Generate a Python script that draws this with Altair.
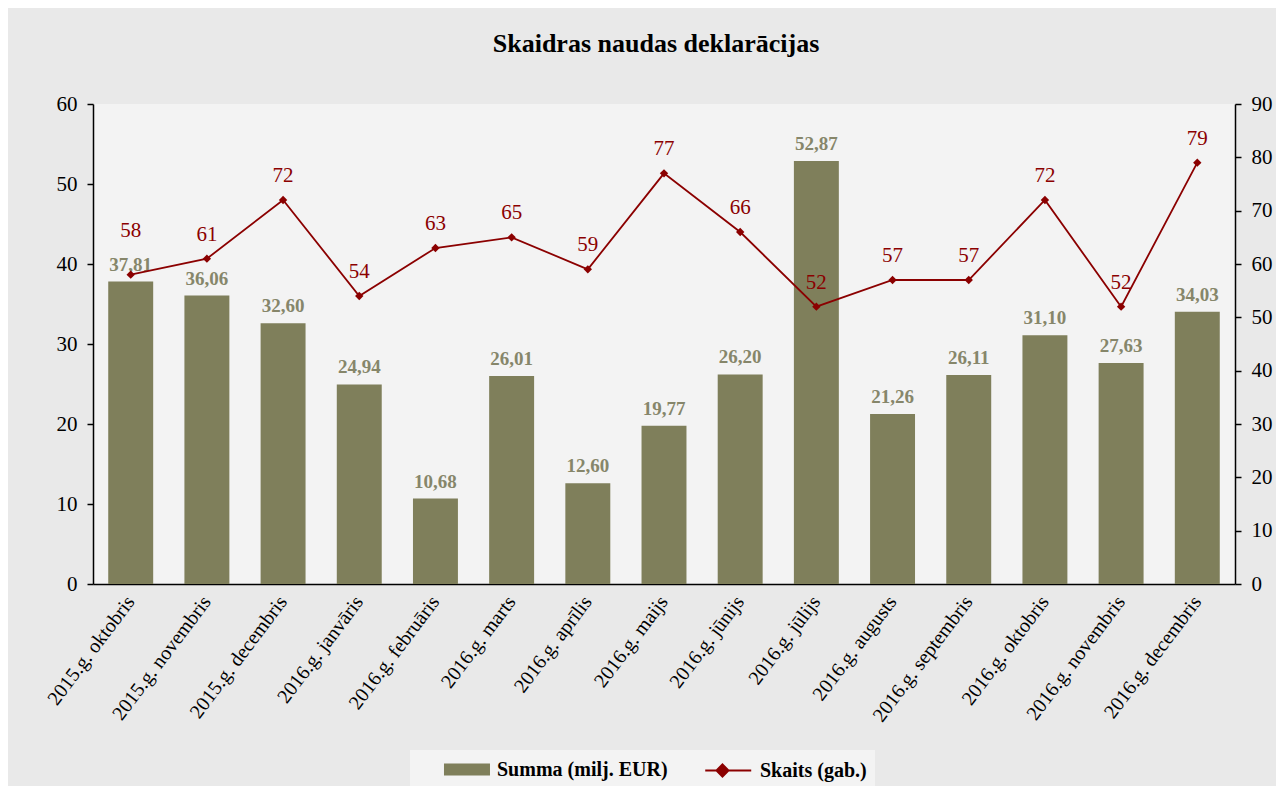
import altair as alt
import pandas as pd

months = ["2015.g. oktobris", "2015.g. novembris", "2015.g. decembris", "2016.g. janvāris",
          "2016.g. februāris", "2016.g. marts", "2016.g. aprīlis", "2016.g. maijs",
          "2016.g. jūnijs", "2016.g. jūlijs", "2016.g. augusts", "2016.g. septembris",
          "2016.g. oktobris", "2016.g. novembris", "2016.g. decembris"]
summa = [37.81, 36.06, 32.60, 24.94, 10.68, 26.01, 12.60, 19.77, 26.20, 52.87,
         21.26, 26.11, 31.10, 27.63, 34.03]
skaits = [58, 61, 72, 54, 63, 65, 59, 77, 66, 52, 57, 57, 72, 52, 79]

S1 = "Summa (milj. EUR)"
S2 = "Skaits (gab.)"
df = pd.DataFrame({"month": months, "summa": summa, "skaits": skaits,
                   "s1": [S1] * len(months), "s2": [S2] * len(months)})

FONT = "Liberation Serif"
BAR = "#7f7f5b"
LINE = "#8b0000"

x = alt.X("month:N", sort=months, title=None,
          scale=alt.Scale(paddingInner=0.41, paddingOuter=0.2),
          axis=alt.Axis(labelAngle=-53, labelFontSize=20, ticks=False, labelPadding=14,
                        labelAlign="right", labelBaseline="middle",
                        domainColor="black", domainWidth=1.5))

yl_axis = alt.Axis(values=list(range(0, 61, 10)), orient="left", grid=False,
                   labelFontSize=21, labelPadding=10)
yr_axis = alt.Axis(values=list(range(0, 91, 10)), orient="right", grid=False,
                   labelFontSize=21, labelPadding=10)
yl = alt.Y("summa:Q", title=None, scale=alt.Scale(domain=[0, 60]), axis=yl_axis)
yr = alt.Y("skaits:Q", title=None, scale=alt.Scale(domain=[0, 90]), axis=yr_axis)

base = alt.Chart(df)

bars = base.mark_bar(color=BAR).encode(
    x=x, y=yl,
    color=alt.Color("s1:N", scale=alt.Scale(domain=[S1], range=[BAR]),
                    legend=alt.Legend(title=None, orient="none", legendX=317, legendY=646,
                                      symbolType="M1.26,-0.52L5.26,-0.52L5.26,0.52L1.26,0.52Z",
                                      symbolSize=529, fillColor="#f3f3f3", padding=8,
                                      labelFontSize=20, labelFontWeight="bold",
                                      labelFont=FONT, labelColor="black", labelOffset=56,
                                      labelLimit=400, symbolStrokeWidth=0)))
bartext = base.mark_text(dy=-17, fontSize=19, fontWeight="bold", font=FONT,
                         color="#86866a").transform_calculate(
    lab="replace(format(datum.summa, '.2f'), '.', ',')"
).encode(x=x, y=yl, text="lab:N")

line = base.mark_line(strokeWidth=1.8).encode(
    x=x, y=yr,
    stroke=alt.Stroke("s2:N", scale=alt.Scale(domain=[S2], range=[LINE]),
                      legend=alt.Legend(title=None, orient="none", legendX=580, legendY=646,
                                        symbolType="M1.02,0L5.02,0M2.52,-0.52L3.04,0L2.52,0.52L2,0Z",
                                        symbolSize=529, fillColor="#f3f3f3", padding=8,
                                        labelFontSize=20, labelFontWeight="bold",
                                        labelFont=FONT, labelColor="black", labelOffset=54,
                                        labelLimit=400, symbolStrokeWidth=2,
                                        symbolFillColor=LINE, symbolStrokeColor=LINE)))
points = base.mark_point(shape="diamond", filled=True, size=70, color=LINE, opacity=1).encode(
    x=x, y=yr)
# label sits above the point, and above the bar's label when the point is above the bar
linetext = base.mark_text(fontSize=21, font=FONT, color=LINE).transform_calculate(
    ly="datum.skaits > datum.summa * 1.5 ? max(datum.skaits + 4.5, datum.summa * 1.5 + 9.5) : datum.skaits + 4.5"
).encode(x=x, y=alt.Y("ly:Q", title=None, scale=alt.Scale(domain=[0, 90]), axis=yr_axis),
         text="skaits:Q")

left = alt.layer(bars, bartext)
right = alt.layer(line, points, linetext)

chart = alt.layer(left, right).resolve_scale(y="independent", color="independent").properties(
    width=1142, height=480,
    title=alt.Title("Skaidras naudas deklarācijas", font=FONT, fontSize=26, fontWeight="bold",
                    color="black", offset=36, anchor="middle", dx=-8),
    autosize=alt.AutoSizeParams(type="none"),
    padding={"left": 85, "top": 96, "right": 41, "bottom": 202},
    background="#e9e9e9",
).configure_view(fill="#f3f3f3", stroke=None).configure_axis(
    labelFont=FONT, labelColor="black", domainColor="black", tickColor="black",
    tickSize=6, domainWidth=1.5, tickWidth=1.5
)

chart.save("out.html", embed_options={"renderer": "svg", "actions": False})
